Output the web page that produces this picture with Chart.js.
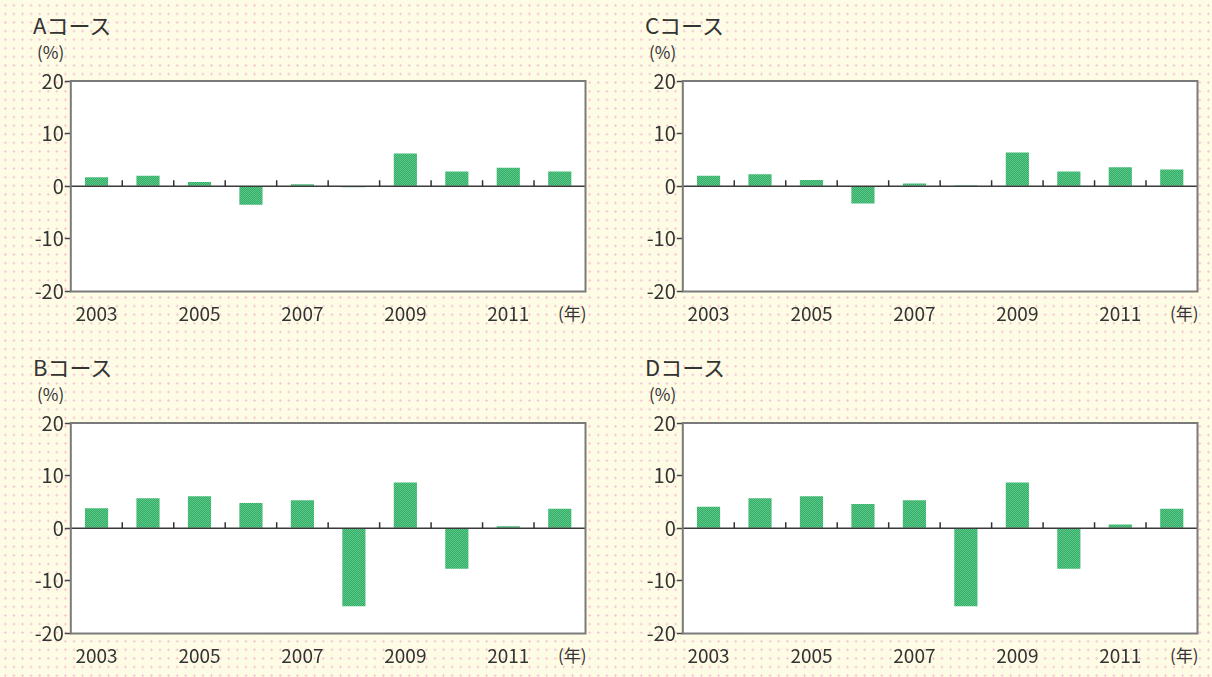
<!DOCTYPE html>
<html lang="ja">
<head>
<meta charset="utf-8">
<script src="https://cdn.jsdelivr.net/npm/chart.js@4"></script>
<style>
  html, body { margin: 0; padding: 0; }
  body {
    width: 1212px; height: 677px; overflow: hidden; position: relative;
    background-color: #fffce6;
    background-image: radial-gradient(circle, #f5c4d4 0.9px, transparent 1.4px);
    background-size: 8.6px 8.6px;
    background-position: 1px 1px;
    font-family: "Noto Sans CJK JP", "Noto Sans", sans-serif;
    color: #333;
  }
  canvas { position: absolute; }
  .title { position: absolute; font-size: 22px; line-height: 1; color: #333; }
  .unit { position: absolute; font-size: 17px; line-height: 1; color: #333; }
  .year { position: absolute; font-size: 17px; line-height: 1; color: #333; }
</style>
</head>
<body>
<div class="title" style="left:33px;top:13px">Aコース</div>
<div class="unit" style="left:37px;top:43px">(%)</div>
<div class="year" style="left:558px;top:304px">(年)</div>
<canvas id="cA" width="600" height="260" style="left:0px;top:70px"></canvas>

<div class="title" style="left:645px;top:13px">Cコース</div>
<div class="unit" style="left:649px;top:43px">(%)</div>
<div class="year" style="left:1170px;top:304px">(年)</div>
<canvas id="cC" width="600" height="260" style="left:612px;top:70px"></canvas>

<div class="title" style="left:33px;top:355px">Bコース</div>
<div class="unit" style="left:37px;top:385px">(%)</div>
<div class="year" style="left:558px;top:646px">(年)</div>
<canvas id="cB" width="600" height="260" style="left:0px;top:412px"></canvas>

<div class="title" style="left:645px;top:355px">Dコース</div>
<div class="unit" style="left:649px;top:385px">(%)</div>
<div class="year" style="left:1170px;top:646px">(年)</div>
<canvas id="cD" width="600" height="260" style="left:612px;top:412px"></canvas>

<script>
// ---- data ----
const years = ['2003','2004','2005','2006','2007','2008','2009','2010','2011','2012'];
const yearLabels = ['2003','','2005','','2007','','2009','','2011',''];
const courseA = [1.7, 2.0, 0.8, -3.5, 0.4, -0.2, 6.2, 2.8, 3.5, 2.8];
const courseB = [3.8, 5.7, 6.1, 4.8, 5.3, -14.8, 8.7, -7.7, 0.4, 3.7];
const courseC = [2.0, 2.3, 1.2, -3.3, 0.5, 0.2, 6.4, 2.8, 3.6, 3.2];
const courseD = [4.1, 5.7, 6.1, 4.6, 5.3, -14.8, 8.7, -7.7, 0.7, 3.7];
const yMin = -20, yMax = 20, yStep = 10;

// checker pattern for bars
function makePattern() {
  const p = document.createElement('canvas');
  p.width = 2; p.height = 2;
  const g = p.getContext('2d');
  g.fillStyle = '#33ad66'; g.fillRect(0, 0, 2, 2);
  g.fillStyle = '#5cc98a'; g.fillRect(0, 0, 1, 1); g.fillRect(1, 1, 1, 1);
  return g.createPattern(p, 'repeat');
}

const boxPlugin = {
  id: 'box',
  beforeDatasetsDraw(chart) {
    const a = chart.chartArea, ctx = chart.ctx;
    ctx.save();
    ctx.fillStyle = '#ffffff';
    ctx.fillRect(a.left, a.top, a.right - a.left, a.bottom - a.top);
    ctx.restore();
  },
  afterDatasetsDraw(chart) {
    const a = chart.chartArea, ctx = chart.ctx;
    const xs = chart.scales.x, ys = chart.scales.y;
    const y0 = ys.getPixelForValue(0);
    ctx.save();
    // zero line
    ctx.strokeStyle = '#3a3a3a';
    ctx.lineWidth = 1.5;
    ctx.beginPath(); ctx.moveTo(a.left, y0); ctx.lineTo(a.right, y0); ctx.stroke();
    // category boundary ticks
    ctx.lineWidth = 1.5;
    ctx.strokeStyle = '#333';
    for (let i = 1; i < years.length; i++) {
      const x = (xs.getPixelForValue(i - 1) + xs.getPixelForValue(i)) / 2;
      ctx.beginPath(); ctx.moveTo(x, y0); ctx.lineTo(x, y0 - 6); ctx.stroke();
    }
    // frame
    ctx.strokeStyle = '#7a7a7a';
    ctx.lineWidth = 2;
    ctx.strokeRect(a.left, a.top, a.right - a.left, a.bottom - a.top);
    ctx.restore();
  }
};

function build(id, values) {
  const pat = makePattern();
  new Chart(document.getElementById(id), {
    type: 'bar',
    data: {
      labels: years,
      datasets: [{ data: values, backgroundColor: pat, borderWidth: 0,
                   barPercentage: 0.45, categoryPercentage: 1.0 }]
    },
    options: {
      responsive: false,
      animation: false,
      events: [],
      layout: { padding: { top: 10, right: 14.5, left: 0, bottom: 0 } },
      plugins: { legend: { display: false }, tooltip: { enabled: false } },
      scales: {
        x: {
          grid: { display: false, drawTicks: false },
          border: { display: false },
          ticks: {
            autoSkip: false, maxRotation: 0, padding: 11,
            color: '#333',
            font: { family: '"Noto Sans CJK JP", sans-serif', size: 19 },
            callback: (v, i) => yearLabels[i]
          },
          afterFit: s => { s.height = 38.5; }
        },
        y: {
          min: yMin, max: yMax,
          grid: {
            drawOnChartArea: false, drawTicks: true, tickLength: 6,
            tickColor: '#444', tickWidth: 1.5
          },
          border: { display: false },
          ticks: {
            stepSize: yStep, padding: 1, color: '#333',
            font: { family: '"Noto Sans CJK JP", sans-serif', size: 20, lineHeight: 1 }
          },
          afterFit: s => { s.width = 70.8; }
        }
      }
    },
    plugins: [boxPlugin]
  });
}

build('cA', courseA);
build('cB', courseB);
build('cC', courseC);
build('cD', courseD);
</script>
</body>
</html>
